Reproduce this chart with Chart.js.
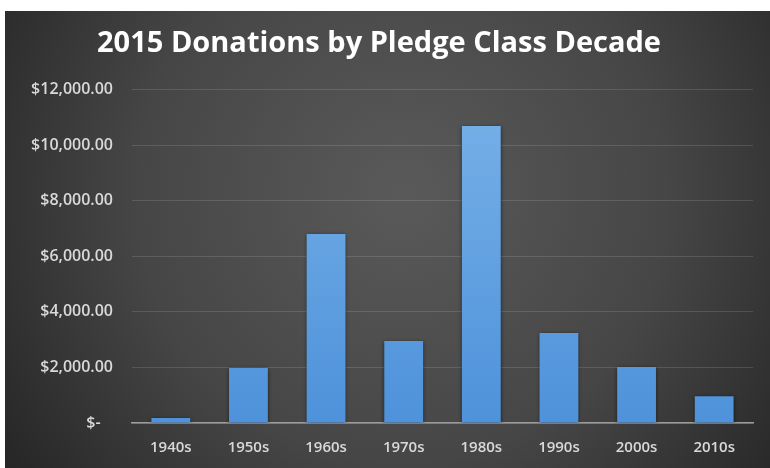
<!DOCTYPE html>
<html>
<head>
<meta charset="utf-8">
<script src="https://cdn.jsdelivr.net/npm/chart.js@4.4.0/dist/chart.umd.min.js"></script>
<style>
  html, body { margin: 0; padding: 0; background: #fff; }
  #wrap { position: absolute; left: 5px; top: 11px; width: 765px; height: 457px; }
</style>
</head>
<body>
<div id="wrap"><canvas id="myChart"></canvas></div>
<script>
// values
var decades = ["1940s", "1950s", "1960s", "1970s", "1980s", "1990s", "2000s", "2010s"]
var donations = [180, 1980, 6810, 2950, 10700, 3240, 2020, 960]
var yTicks = [0, 2000, 4000, 6000, 8000, 10000, 12000]

var fontName = "'Open Sans', Lato, sans-serif"

function money(v) {
    if (v === 0) return "$-\u00a0\u00a0\u00a0"
    return "$" + v.toLocaleString("en-US", {minimumFractionDigits: 2, maximumFractionDigits: 2})
}

// dark radial backdrop like the office theme
var backdrop = {
    id: "backdrop",
    beforeDraw(chart) {
        var ctx = chart.ctx
        var w = chart.width, h = chart.height
        var g = ctx.createRadialGradient(w * 0.52, h * 0.4, 10, w * 0.52, h * 0.4, w * 0.62)
        g.addColorStop(0, "#595959")
        g.addColorStop(0.55, "#464646")
        g.addColorStop(1, "#272727")
        ctx.save()
        ctx.fillStyle = g
        ctx.fillRect(0, 0, w, h)
        ctx.restore()
    }
}

var barShadow = {
    id: "barShadow",
    beforeDatasetsDraw(chart) {
        var ctx = chart.ctx
        ctx.save()
        ctx.shadowColor = "rgba(0,0,0,0.55)"
        ctx.shadowBlur = 4
        ctx.shadowOffsetX = 0
        ctx.shadowOffsetY = 1
    },
    afterDatasetsDraw(chart) {
        chart.ctx.restore()
    }
}

function barFill(c) {
    var area = c.chart.chartArea
    if (!area) return "#5b9bd5"
    var g = c.chart.ctx.createLinearGradient(0, area.top, 0, area.bottom)
    g.addColorStop(0, "#78b1e8")
    g.addColorStop(1, "#4e92da")
    return g
}

var data = {
    labels: decades,
    datasets: [{
        label: "Donations",
        data: donations,
        backgroundColor: barFill,
        borderWidth: 0,
        categoryPercentage: 1,
        barPercentage: 0.5,
    }]
}

const config = {
    type: "bar",
    data: data,
    plugins: [backdrop, barShadow],
    options: {
        animation: false,
        responsive: true,
        maintainAspectRatio: false,
        layout: { padding: { left: 0, right: 17, top: 0, bottom: 0 } },
        plugins: {
            legend: { display: false },
            tooltip: { enabled: false },
            title: {
                display: true,
                text: "2015 Donations by Pledge Class Decade",
                color: "#ffffff",
                font: { family: fontName, size: 29, weight: "bold" },
                padding: { top: 15, bottom: 29 }
            }
        },
        scales: {
            x: {
                grid: { display: false, drawTicks: false },
                border: { display: true, color: "#9c9c9c", width: 1.5 },
                ticks: {
                    color: "#d9d9d9",
                    padding: 16,
                    font: { family: fontName, size: 15, weight: "600" }
                },
                afterFit(scale) { scale.height = 45 }
            },
            y: {
                min: 0,
                max: 12000,
                afterBuildTicks(scale) {
                    scale.ticks = yTicks.map(v => ({ value: v }))
                },
                grid: { color: "rgba(255,255,255,0.13)", drawTicks: false, lineWidth: 1 },
                border: { display: false },
                ticks: {
                    color: "#d9d9d9",
                    padding: 19,
                    font: { family: fontName, size: 16, weight: "600" },
                    callback: (v) => money(v)
                },
                afterFit(scale) { scale.width = 127 }
            }
        }
    }
}

const myChart = new Chart(document.getElementById("myChart"), config)
</script>
</body>
</html>
